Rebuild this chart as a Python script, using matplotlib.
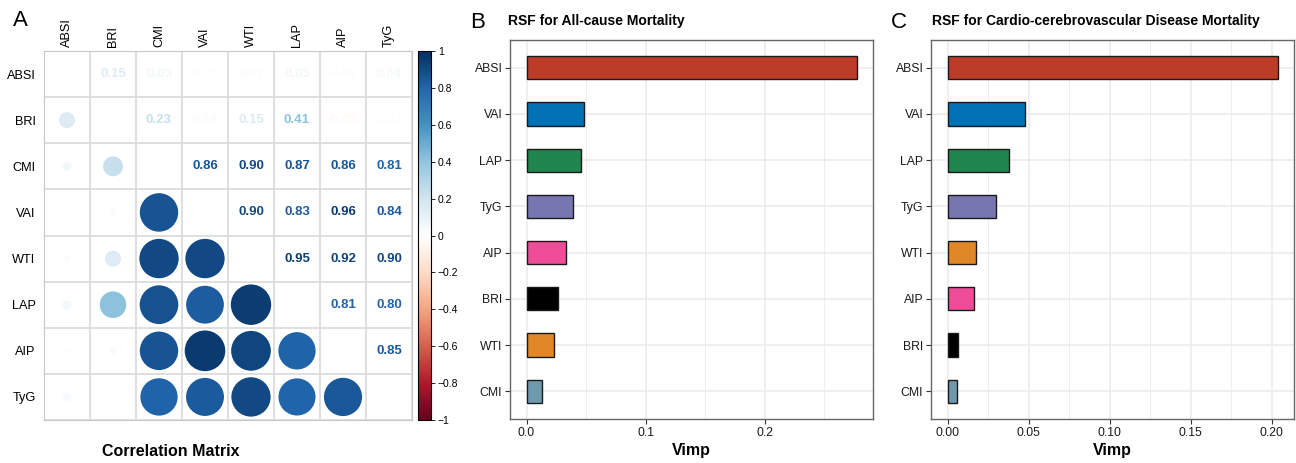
import numpy as np
import matplotlib
matplotlib.use("Agg")
import matplotlib.pyplot as plt
import matplotlib.colors as mc
from matplotlib.patches import Circle
from matplotlib.cm import ScalarMappable

plt.rcParams['font.family'] = ['Liberation Sans', 'DejaVu Sans']

# correlation matrix (upper triangle)
vars_corr = ["ABSI", "BRI", "CMI", "VAI", "WTI", "LAP", "AIP", "TyG"]
upper = {
    ("ABSI", "BRI"): 0.15, ("ABSI", "CMI"): 0.05, ("ABSI", "VAI"): 0.01,
    ("ABSI", "WTI"): 0.02, ("ABSI", "LAP"): 0.05, ("ABSI", "AIP"): -0.02,
    ("ABSI", "TyG"): 0.04,
    ("BRI", "CMI"): 0.23, ("BRI", "VAI"): 0.03, ("BRI", "WTI"): 0.15,
    ("BRI", "LAP"): 0.41, ("BRI", "AIP"): -0.03, ("BRI", "TyG"): 0.01,
    ("CMI", "VAI"): 0.86, ("CMI", "WTI"): 0.90, ("CMI", "LAP"): 0.87,
    ("CMI", "AIP"): 0.86, ("CMI", "TyG"): 0.81,
    ("VAI", "WTI"): 0.90, ("VAI", "LAP"): 0.83, ("VAI", "AIP"): 0.96,
    ("VAI", "TyG"): 0.84,
    ("WTI", "LAP"): 0.95, ("WTI", "AIP"): 0.92, ("WTI", "TyG"): 0.90,
    ("LAP", "AIP"): 0.81, ("LAP", "TyG"): 0.80,
    ("AIP", "TyG"): 0.85,
}

# RSF variable importance
vars_all = ["ABSI", "VAI", "LAP", "TyG", "AIP", "BRI", "WTI", "CMI"]
vimp_all = [0.277, 0.048, 0.046, 0.0387, 0.033, 0.0263, 0.0233, 0.0132]
vars_cvd = ["ABSI", "VAI", "LAP", "TyG", "WTI", "AIP", "BRI", "CMI"]
vimp_cvd = [0.2037, 0.0478, 0.0377, 0.030, 0.0177, 0.0164, 0.0062, 0.0060]

bar_colors = {"ABSI": "#BC3C29", "VAI": "#0072B5", "LAP": "#20854E",
              "TyG": "#7876B1", "AIP": "#EE4C97", "BRI": "#000000",
              "WTI": "#E18727", "CMI": "#6F99AD"}

n = len(vars_corr)
R = np.eye(n)
for (a, b), v in upper.items():
    i, j = vars_corr.index(a), vars_corr.index(b)
    R[i, j] = v
    R[j, i] = v

W, H = 1296, 463
fig = plt.figure(figsize=(W / 100, H / 100), dpi=100)


def box(x0, y0, x1, y1):
    # pixel box -> figure fraction rect
    return [x0 / W, 1 - y1 / H, (x1 - x0) / W, (y1 - y0) / H]


rdbu = mc.LinearSegmentedColormap.from_list(
    "rdbu", ["#67001F", "#B2182B", "#D6604D", "#F4A582", "#FDDBC7", "#FFFFFF",
             "#D1E5F0", "#92C5DE", "#4393C3", "#2166AC", "#053061"])
norm = mc.Normalize(-1, 1)

# ---- panel A
ax = fig.add_axes(box(44, 51, 412, 420))
ax.set_xlim(0, n)
ax.set_ylim(n, 0)
for i in range(n):
    for j in range(n):
        r = R[i, j]
        if i > j:
            ax.add_patch(Circle((j + 0.5, i + 0.5), 0.45 * np.sqrt(abs(r)),
                                color=rdbu(norm(r)), lw=0))
        elif i < j:
            ax.text(j + 0.5, i + 0.5, "%.2f" % r, ha="center", va="center",
                    fontsize=9.5, fontweight="bold", color=rdbu(norm(r)))
for k in range(n + 1):
    ax.axhline(k, color="#D9D9D9", lw=1.2, zorder=0)
    ax.axvline(k, color="#D9D9D9", lw=1.2, zorder=0)
for s in ax.spines.values():
    s.set_color("#C8C8C8")
ax.set_xticks(np.arange(n) + 0.5)
ax.set_xticklabels(vars_corr, rotation=90)
ax.set_yticks(np.arange(n) + 0.5)
ax.set_yticklabels(vars_corr)
ax.xaxis.tick_top()
ax.tick_params(axis="x", length=0, pad=3, labelsize=9.2)
ax.tick_params(axis="y", length=0, pad=6, labelsize=9.2)

cax = fig.add_axes(box(418, 51, 431, 420))
cb = fig.colorbar(ScalarMappable(norm=norm, cmap=rdbu), cax=cax,
                  ticks=np.round(np.arange(-1, 1.01, 0.2), 1))
cb.ax.set_yticklabels(["\u22121", "\u22120.8", "\u22120.6", "\u22120.4", "\u22120.2",
                       "0", "0.2", "0.4", "0.6", "0.8", "1"])
cb.ax.tick_params(labelsize=7.5, length=3, width=0.6, pad=2)
cb.outline.set_linewidth(0.8)

fig.text(20 / W, 1 - 20 / H, "A", fontsize=16, ha="center", va="center")
fig.text(171 / W, 1 - 452 / H, "Correlation Matrix", fontsize=11.5,
         fontweight="bold", ha="center", va="center")


# ---- panels B and C
def rsf_panel(rect, names, vals, xmax_data, major, minor, fmt, title, letter, lx, tx):
    ax = fig.add_axes(rect)
    y = np.arange(len(names))[::-1] + 1
    ax.barh(y, vals, height=0.5, color=[bar_colors[v] for v in names],
            edgecolor="#1A1A1A", lw=1.0, zorder=3)
    pad = 0.05 * xmax_data
    ax.set_xlim(-pad, xmax_data + pad)
    ax.set_ylim(0.4, len(names) + 0.6)
    ax.set_yticks(y)
    ax.set_yticklabels(names)
    ax.set_xticks(major)
    ax.set_xticklabels([fmt % v for v in major])
    ax.set_xticks(minor, minor=True)
    ax.tick_params(which="minor", length=0)
    ax.tick_params(which="major", length=3.5, width=0.8, color="#333333",
                   labelsize=8.8, labelcolor="#1A1A1A", pad=2)
    for v in major:
        ax.axvline(v, color="#EBEBEB", lw=1.1, zorder=0)
    for v in minor:
        ax.axvline(v, color="#EBEBEB", lw=0.6, zorder=0)
    for v in y:
        ax.axhline(v, color="#EBEBEB", lw=1.1, zorder=0)
    for s in ax.spines.values():
        s.set_color("#666666")
        s.set_linewidth(1.0)
    ax.set_xlabel("Vimp", fontsize=11.5, fontweight="bold", labelpad=3)
    fig.text(lx / W, 1 - 22 / H, letter, fontsize=16, ha="center", va="center")
    fig.text(tx / W, 1 - 21 / H, title, fontsize=10, fontweight="bold",
             ha="left", va="center")
    return ax


rsf_panel(box(510, 40, 873, 419), vars_all, vimp_all, max(vimp_all),
          [0.0, 0.1, 0.2], [0.05, 0.15, 0.25], "%.1f",
          "RSF for All-cause Mortality", "B", 478, 508)
rsf_panel(box(931, 40, 1294, 419), vars_cvd, vimp_cvd, max(vimp_cvd),
          [0.0, 0.05, 0.10, 0.15, 0.20], [0.025, 0.075, 0.125, 0.175], "%.2f",
          "RSF for Cardio-cerebrovascular Disease Mortality", "C", 899, 932)

fig.savefig("out.png", dpi=100)
